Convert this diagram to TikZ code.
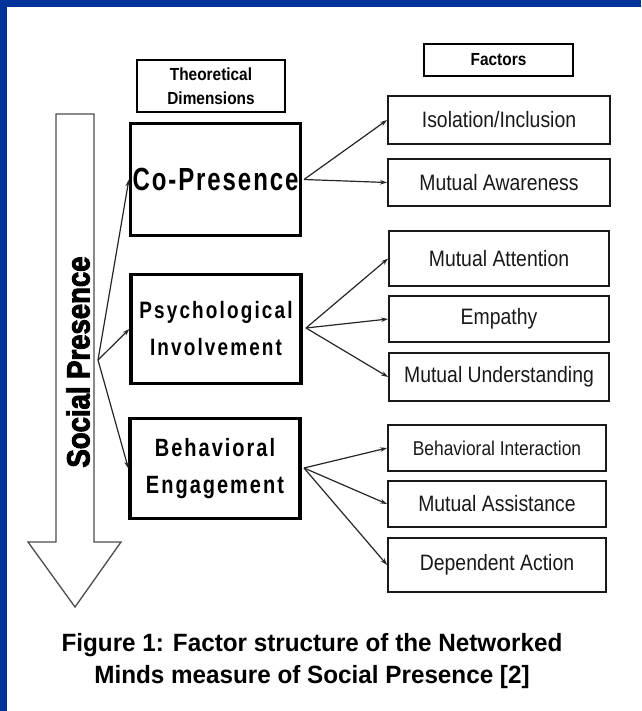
\documentclass[tikz,border=0pt]{standalone}
\usepackage{fontspec}
\setmainfont{Liberation Sans}
\usetikzlibrary{arrows.meta}
\newfontfamily\facfont[FakeStretch=0.87]{Liberation Sans}
\newfontfamily\hdrfont[FakeStretch=0.88]{Liberation Sans}
\newfontfamily\copfont[FakeStretch=0.75,LetterSpace=6]{Liberation Sans}
\newfontfamily\dimfont[FakeStretch=0.8,LetterSpace=9]{Liberation Sans}
\newfontfamily\behfont[FakeStretch=0.8,LetterSpace=8]{Liberation Sans}
\newfontfamily\spfont[FakeStretch=0.86,FakeBold=3]{Liberation Sans}
\newfontfamily\capfont[FakeStretch=0.97]{Liberation Sans}
\definecolor{bluebg}{RGB}{0,51,153}
\begin{document}
\begin{tikzpicture}[x=1pt,y=-1pt,
  dimbox/.style={draw=black, line width=3.2pt, minimum width=170pt, inner sep=0pt, align=center},
  facbox/.style={draw=black!90, line width=1.8pt, inner sep=0pt, font=\facfont\fontsize{22.3}{26}\selectfont, text=black!90},
  hdrbox/.style={draw=black, line width=1.6pt, inner sep=0pt, font=\hdrfont\bfseries\fontsize{17.5}{23.5}\selectfont, align=center},
  conn/.style={draw=black!85, line width=1.2pt, -{Stealth[length=7pt,width=4.5pt]}},
  bigarrow/.style={draw=black!70, line width=1.3pt, fill=white},
]
\useasboundingbox (0,0) rectangle (641,711);
\fill[bluebg] (0,0) rectangle (641,711);
\fill[white] (7,7) rectangle (641,711);

% big arrow
\draw[bigarrow] (56,114) -- (94,114) -- (94,542) -- (121,542) -- (75,607) -- (28,542) -- (56,542) -- cycle;
\node[rotate=90, inner sep=0pt, font=\spfont\bfseries\fontsize{32}{32}\selectfont] (sp) at (78,362) {Social Presence};

% headers
\node[hdrbox, minimum width=148pt, minimum height=52pt] (td) at (211,86) {Theoretical\\Dimensions};
\node[hdrbox, minimum width=149pt, minimum height=32pt] (fac) at (498.5,60) {Factors};

% dimensions
\node[dimbox, minimum height=112pt, font=\copfont\bfseries\fontsize{32}{36}\selectfont] (cop) at (215.5,179.5) {Co-Presence};
\node[dimbox, minimum height=109pt, font=\dimfont\bfseries\fontsize{23.7}{37}\selectfont] (psy) at (216,329) {Psychological\\Involvement};
\node[dimbox, minimum height=100pt, font=\behfont\bfseries\fontsize{25}{37}\selectfont] (beh) at (215,468.5) {Behavioral\\Engagement};

% factors
\node[facbox, minimum width=222pt, minimum height=48pt] (iso) at (499,120) {Isolation/Inclusion};
\node[facbox, minimum width=222pt, minimum height=47pt] (awa) at (499,182.5) {Mutual Awareness};
\node[facbox, minimum width=220pt, minimum height=55pt] (matt) at (499,258.5) {Mutual Attention};
\node[facbox, minimum width=220pt, minimum height=46pt] (emp) at (499,319) {Empathy};
\node[facbox, minimum width=220pt, minimum height=48pt] (mund) at (499,377) {Mutual Understanding};
\node[facbox, minimum width=218pt, minimum height=46pt, font=\facfont\fontsize{20}{24}\selectfont] (bint) at (497,448) {Behavioral Interaction};
\node[facbox, minimum width=218pt, minimum height=46pt] (mass) at (497,504) {Mutual Assistance};
\node[facbox, minimum width=218pt, minimum height=54pt] (dact) at (497,565) {Dependent Action};

% connectors
\coordinate (spb) at (98,360);
\draw[conn] (spb) -- (cop.west);
\draw[conn] (spb) -- (psy.west);
\draw[conn] (spb) -- (beh.west);

\coordinate (copo) at (304,179.5);
\draw[conn] (copo) -- (iso.west);
\draw[conn] (copo) -- (awa.west);

\coordinate (psyo) at (306,328);
\draw[conn] (psyo) -- (matt.west);
\draw[conn] (psyo) -- (emp.west);
\draw[conn] (psyo) -- (mund.west);

\coordinate (beho) at (304,468);
\draw[conn] (beho) -- (bint.west);
\draw[conn] (beho) -- (mass.west);
\draw[conn] (beho) -- (dact.west);

% caption
\node[align=center, inner sep=0pt, font=\capfont\bfseries\fontsize{25}{32}\selectfont] (cap) at (312,661) {Figure 1: Factor structure of the Networked\\Minds measure of Social Presence [2]};
\end{tikzpicture}
\end{document}
